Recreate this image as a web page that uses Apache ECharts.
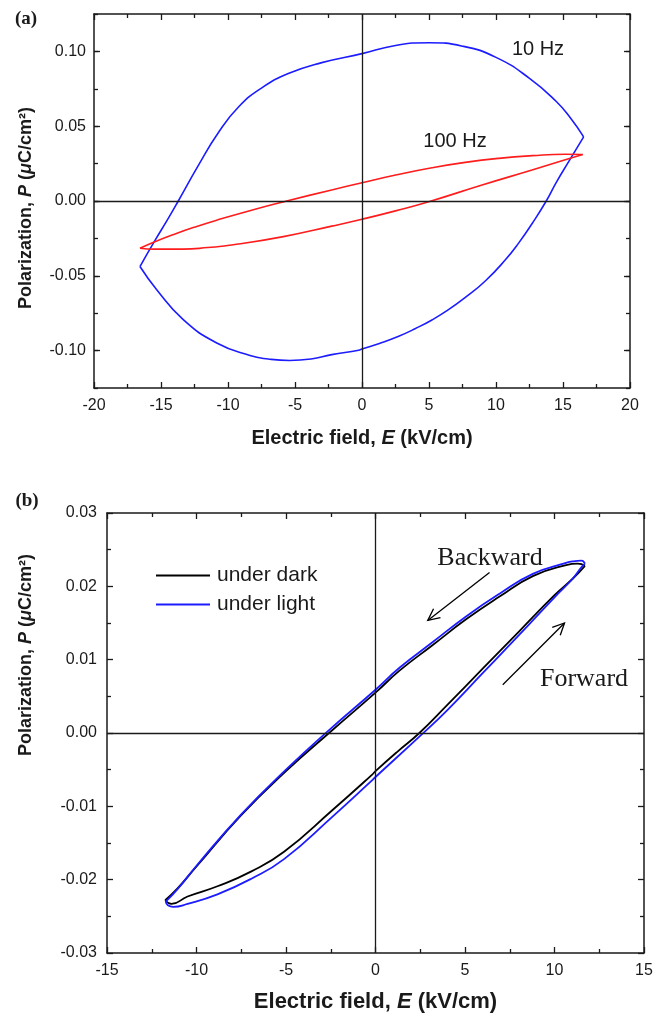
<!DOCTYPE html>
<html>
<head>
<meta charset="utf-8">
<script src="https://cdn.jsdelivr.net/npm/echarts@6/dist/echarts.min.js"></script>
<style>
html, body { margin: 0; padding: 0; background: #fff; }
#chart { width: 664px; height: 1017px; }
</style>
</head>
<body>
<div id="chart"></div>
<script>
// (a) P-E loops, points are [E (kV/cm), P (uC/cm2)]
var hz10Upper = [[-16.57,-0.0438],[-15.49,-0.027],[-14.48,-0.012],[-13.71,0.0],[-12.2,0.024],[-10.7,0.046],
  [-9.2,0.063],[-7.5,0.0755],[-5.5,0.0852],[-3,0.0925],[0,0.0985],[2.5,0.104],[5,0.1058],[7.5,0.1035],
  [10,0.096],[12.5,0.082],[14.5,0.0665],[15.6,0.055],[16.54,0.0429]];
var hz10Lower = [[16.54,0.0429],[15.47,0.027],[14.5,0.0125],[13.75,0.0],[12.7,-0.015],[11.7,-0.028],
  [10.7,-0.0393],[9.2,-0.0535],[7.71,-0.0645],[6.4,-0.073],[5.22,-0.0795],[4,-0.0852],[2.74,-0.0904],
  [1.3,-0.0952],[0,-0.0989],[-0.25,-0.0998],[-2.26,-0.1027],[-3.8,-0.1056],[-5.4,-0.1066],[-7,-0.1056],
  [-8.36,-0.1033],[-10.84,-0.0949],[-13.34,-0.0793],[-15.32,-0.0593],[-16.57,-0.0438]];
var hz100Upper = [[-16.57,-0.0316],[-15.5,-0.0274],[-14,-0.0222],[-12.5,-0.0175],[-10.84,-0.0128],
  [-8.11,-0.0058],[-5.62,0.0],[-2.26,0.0074],[0,0.0122],[2.6,0.0175],[5.22,0.0222],[7.7,0.0258],
  [10.2,0.0285],[12.7,0.0303],[15.17,0.0313],[16.47,0.0311]];
var hz100Lower = [[16.47,0.0311],[15.6,0.0287],[14.5,0.0257],[12.69,0.0207],[8.96,0.0107],[4.98,-0.0005],
  [2.5,-0.0066],[0,-0.0122],[-2.26,-0.0168],[-5.87,-0.0238],[-9.6,-0.0293],[-11.5,-0.0311],[-13.34,-0.0322],
  [-15.5,-0.0322],[-16.57,-0.0316]];
var ticksA = [-0.1, -0.05, 0, 0.05, 0.1];

// (b) under dark / under light
var darkBackward = [[11.7,0.0228],[11.3,0.0231],[10.65,0.0229],[8.79,0.0214],[6.93,0.0186],[5.06,0.0155],
  [3.2,0.012],[1.34,0.0085],[0,0.0055],[-2.5,0.0002],[-5,-0.0052],[-7.5,-0.0112],[-10,-0.0182],
  [-11.06,-0.0212],[-11.75,-0.0228]];
var darkForward = [[-11.75,-0.0228],[-11.4,-0.0233],[-10.5,-0.0223],[-8.83,-0.0209],[-6.96,-0.0189],
  [-5.11,-0.0162],[-2.4,-0.0105],[-0.2,-0.0057],[0,-0.0052],[1.2,-0.0026],[2.45,0.0],
  [4,0.0038],[6,0.0088],[8,0.0138],[10,0.0188],[11.0,0.021],[11.7,0.0228]];
var lightBackward = [[11.7,0.0231],[11.5,0.0235],[11.0,0.0234],[10.65,0.0232],[8.79,0.0217],[6.93,0.019],
  [5.06,0.0159],[3.2,0.0124],[1.34,0.0089],[0,0.0059],[-2.5,0.0006],[-5,-0.005],[-7.5,-0.0111],
  [-10,-0.0181],[-11.06,-0.0213],[-11.72,-0.023]];
var lightForward = [[-11.72,-0.023],[-11.6,-0.0235],[-11.3,-0.0237],[-10.5,-0.0233],[-8.83,-0.022],
  [-6.96,-0.0199],[-5.11,-0.0172],[-2.4,-0.0114],[-0.3,-0.0067],[0,-0.006],[2.45,-0.0005],
  [4,0.0031],[6,0.0082],[8,0.0133],[10,0.0185],[11.0,0.021],[11.5,0.0226],[11.7,0.0231]];
var arrowBackward = [[6.37,0.0219],[2.92,0.01535]];
var arrowForward = [[7.11,0.00659],[10.56,0.015]];

var font = 'Liberation Sans, Arial, sans-serif';
var serif = 'Liberation Serif, Times New Roman, serif';
var ink = '#1a1a1a';
var blue = '#1c1cff';
var red = '#ff1c1c';

function xAx(grid, pos, min, max, label, name, gap, size) {
  return {
    type: 'value', gridIndex: grid, position: pos, min: min, max: max, interval: 5,
    axisLine: { onZero: false, lineStyle: { color: ink, width: 1.5 } },
    axisTick: { inside: true, length: 6, lineStyle: { color: ink, width: 1.3 } },
    minorTick: { show: true, splitNumber: 2, length: 4, lineStyle: { color: ink, width: 1.3 } },
    axisLabel: { show: label, margin: 10, color: ink, fontSize: 16, fontFamily: font },
    splitLine: { show: false },
    name: name || '', nameLocation: 'middle', nameGap: gap || 0,
    nameTextStyle: { fontSize: size, fontWeight: 'bold', color: ink, fontFamily: font,
      rich: { i: { fontSize: size, fontWeight: 'bold', fontStyle: 'italic', color: ink, fontFamily: font } } }
  };
}

function yAxA(pos, major, label) {
  return {
    type: 'value', gridIndex: 0, position: pos, min: -0.125, max: 0.125, interval: 0.025,
    axisLine: { show: !major, onZero: false, lineStyle: { color: ink, width: 1.5 } },
    axisTick: major ? { inside: true, length: 6, customValues: ticksA, lineStyle: { color: ink, width: 1.3 } }
                    : { inside: true, length: 4, lineStyle: { color: ink, width: 1.3 } },
    axisLabel: label ? { customValues: ticksA, margin: 8, color: ink, fontSize: 16, fontFamily: font,
                         formatter: function (v) { return v.toFixed(2); } } : { show: false },
    splitLine: { show: false }
  };
}

function yAxB(pos, label) {
  return {
    type: 'value', gridIndex: 1, position: pos, min: -0.03, max: 0.03, interval: 0.01,
    axisLine: { onZero: false, lineStyle: { color: ink, width: 1.5 } },
    axisTick: { inside: true, length: 6, lineStyle: { color: ink, width: 1.3 } },
    minorTick: { show: true, splitNumber: 2, length: 4, lineStyle: { color: ink, width: 1.3 } },
    axisLabel: { show: label, margin: 10, color: ink, fontSize: 16, fontFamily: font,
                 formatter: function (v) { return v.toFixed(2); } },
    splitLine: { show: false }
  };
}

var zeroLines = {
  silent: true, symbol: ['none', 'none'], label: { show: false },
  lineStyle: { color: ink, width: 1.3, type: 'solid' },
  emphasis: { disabled: true },
  data: [{ xAxis: 0 }, { yAxis: 0 }]
};

function loop(name, xi, yi, data, color, width, withZero) {
  var s = {
    type: 'line', name: name, xAxisIndex: xi, yAxisIndex: yi, data: data,
    symbol: 'none', smooth: 0.5, lineStyle: { color: color, width: width },
    itemStyle: { color: color }, z: 3
  };
  if (withZero) s.markLine = zeroLines;
  return s;
}

var chart = echarts.init(document.getElementById('chart'), null, { renderer: 'canvas' });
chart.setOption({
  animation: false,
  backgroundColor: '#fff',
  grid: [
    { left: 94, top: 14, width: 536, height: 374 },
    { left: 107, top: 513, width: 537, height: 440 }
  ],
  xAxis: [
    xAx(0, 'bottom', -20, 20, true, 'Electric field, {i|E} (kV/cm)', 40, 20),
    xAx(0, 'top', -20, 20, false),
    xAx(1, 'bottom', -15, 15, true, 'Electric field, {i|E} (kV/cm)', 38, 22),
    xAx(1, 'top', -15, 15, false)
  ],
  yAxis: [
    yAxA('left', false, false),
    yAxA('left', true, true),
    yAxA('right', false, false),
    yAxA('right', true, false),
    yAxB('left', true),
    yAxB('right', false)
  ],
  legend: {
    data: ['under dark', 'under light'], orient: 'vertical', left: 156, top: 565,
    icon: 'rect', itemWidth: 54, itemHeight: 2, itemGap: 8, padding: 0, selectedMode: false,
    textStyle: { fontSize: 21, lineHeight: 21, color: ink, fontFamily: font, padding: [0, 0, 0, 2] }
  },
  series: [
    loop('10 Hz', 0, 0, hz10Upper, blue, 1.6, true),
    loop('10 Hz', 0, 0, hz10Lower, blue, 1.6, false),
    loop('100 Hz', 0, 0, hz100Upper, red, 1.6, false),
    loop('100 Hz', 0, 0, hz100Lower, red, 1.6, false),
    loop('under dark', 2, 4, darkBackward, '#000', 1.8, true),
    loop('under dark', 2, 4, darkForward, '#000', 1.8, false),
    loop('under light', 2, 4, lightBackward, blue, 1.8, false),
    loop('under light', 2, 4, lightForward, blue, 1.8, false)
  ]
});

// annotations: arrows placed in data coordinates of panel (b)
function arrow(pts) {
  var a = chart.convertToPixel({ xAxisIndex: 2, yAxisIndex: 4 }, pts[0]);
  var b = chart.convertToPixel({ xAxisIndex: 2, yAxisIndex: 4 }, pts[1]);
  var ang = Math.atan2(a[1] - b[1], a[0] - b[0]);
  var len = 13, spread = 0.45;
  var h1 = [b[0] + len * Math.cos(ang + spread), b[1] + len * Math.sin(ang + spread)];
  var h2 = [b[0] + len * Math.cos(ang - spread), b[1] + len * Math.sin(ang - spread)];
  var st = { stroke: '#000', lineWidth: 1.3, fill: null };
  return [
    { type: 'polyline', shape: { points: [a, b] }, style: st, silent: true },
    { type: 'polyline', shape: { points: [h1, b, h2] }, style: st, silent: true }
  ];
}

var txt = function (x, y, text, f, extra) {
  var s = { text: text, font: f, fill: ink, align: 'center', verticalAlign: 'middle' };
  for (var k in extra) s[k] = extra[k];
  return { type: 'text', x: x, y: y, style: s, silent: true };
};

var yTitleRich = {
  i: { fontSize: 18, fontWeight: 'bold', fontStyle: 'italic', fontFamily: font, fill: ink }
};
var yTitle = function (y) {
  var t = txt(26, y, 'Polarization, {i|P} ({i|μ}C/cm²)', 'bold 18px ' + font, { rich: yTitleRich });
  t.rotation = Math.PI / 2;
  return t;
};

var graphics = [
  txt(26, 19, '(a)', 'bold 19px ' + serif),
  txt(27, 501, '(b)', 'bold 19px ' + serif),
  yTitle(208),
  yTitle(655),
  txt(538, 49, '10 Hz', '20px ' + font),
  txt(455, 141, '100 Hz', '20px ' + font),
  txt(490, 558, 'Backward', '26px ' + serif),
  txt(584, 679, 'Forward', '26px ' + serif)
].concat(arrow(arrowBackward), arrow(arrowForward));

chart.setOption({ graphic: graphics });
</script>
</body>
</html>
